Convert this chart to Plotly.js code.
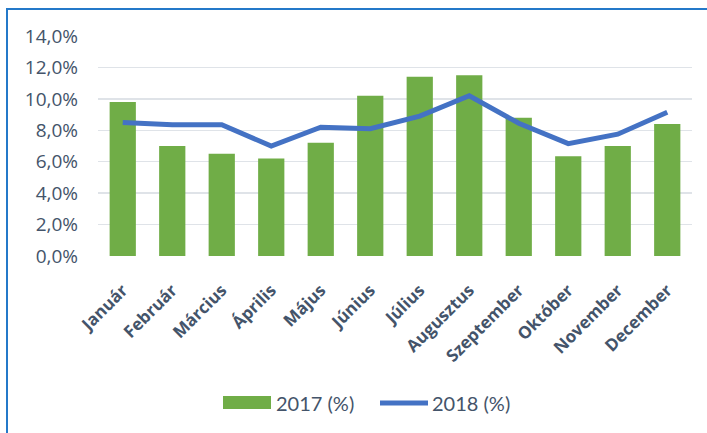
<!DOCTYPE html>
<html><head><meta charset="utf-8">
<script src="https://cdn.plot.ly/plotly-3.0.1.min.js"></script>
<style>html,body{margin:0;padding:0;background:#fff;}#chart{width:707px;height:433px;}</style>
</head><body><div id="chart"></div>
<script>
const months = ['Január','Február','Március','Április','Május','Június','Július','Augusztus','Szeptember','Október','November','December'];
const values2017 = [9.8, 7.0, 6.5, 6.2, 7.2, 10.2, 11.4, 11.5, 8.8, 6.35, 7.0, 8.4];
const values2018 = [8.5, 8.35, 8.35, 7.0, 8.2, 8.1, 8.9, 10.2, 8.45, 7.15, 7.75, 9.15];
const yTicks = [0, 2, 4, 6, 8, 10, 12, 14];
const yTickText = yTicks.map(v => v.toFixed(1).replace('.', ',') + '%');
const seriesNames = ['2017 (%)', '2018 (%)'];

const W = 707, H = 433;
const m = {l: 98, r: 15, t: 36, b: 177};
const pw = W - m.l - m.r, ph = H - m.t - m.b;
const px = x => (x - m.l) / pw;
const py = y => (H - m.b - y) / ph;

const txt = '#44546a';
const green = '#70ad47', blue = '#4472c4';
const data = [
  {type: 'bar', x: months, y: values2017, name: seriesNames[0], marker: {color: green}},
  {type: 'scatter', mode: 'lines', x: months, y: values2018, name: seriesNames[1],
   line: {color: blue, width: 5}}
];
const legY = py(403);
const layout = {
  width: W, height: H, margin: m,
  paper_bgcolor: '#fff', plot_bgcolor: '#fff',
  bargap: 0.47,
  font: {family: 'Lato, "Open Sans", sans-serif', color: txt},
  xaxis: {tickangle: -45, tickfont: {size: 17, family: '"Open Sans", sans-serif', weight: 'bold', color: txt},
          showgrid: false, zeroline: false, showline: false, ticks: '', ticklabelstandoff: 20},
  yaxis: {range: [0, 14], tickvals: yTicks, ticktext: yTickText,
          tickfont: {size: 19, family: '"Open Sans", sans-serif', color: txt},
          gridcolor: '#dfe3e8', gridwidth: 1.5, zeroline: false, showline: false, ticks: '',
          ticklabelstandoff: 19, fixedrange: true},
  showlegend: false,
  shapes: [
    {type: 'rect', xref: 'paper', yref: 'paper', x0: px(7), x1: px(730), y0: py(460), y1: py(9),
     line: {color: '#2479c9', width: 2}, fillcolor: 'rgba(0,0,0,0)', layer: 'below'},
    {type: 'rect', xref: 'paper', yref: 'paper', x0: px(223), x1: px(271), y0: py(409), y1: py(396),
     line: {width: 0}, fillcolor: green},
    {type: 'line', xref: 'paper', yref: 'paper', x0: px(380), x1: px(428), y0: legY, y1: legY,
     line: {color: blue, width: 5}}
  ],
  annotations: [
    {xref: 'paper', yref: 'paper', x: px(274), y: legY, xanchor: 'left', yanchor: 'middle',
     text: seriesNames[0], showarrow: false, font: {size: 20, color: txt}},
    {xref: 'paper', yref: 'paper', x: px(430), y: legY, xanchor: 'left', yanchor: 'middle',
     text: seriesNames[1], showarrow: false, font: {size: 20, color: txt}}
  ]
};
Plotly.newPlot('chart', data, layout, {displayModeBar: false, staticPlot: true});
</script></body></html>
